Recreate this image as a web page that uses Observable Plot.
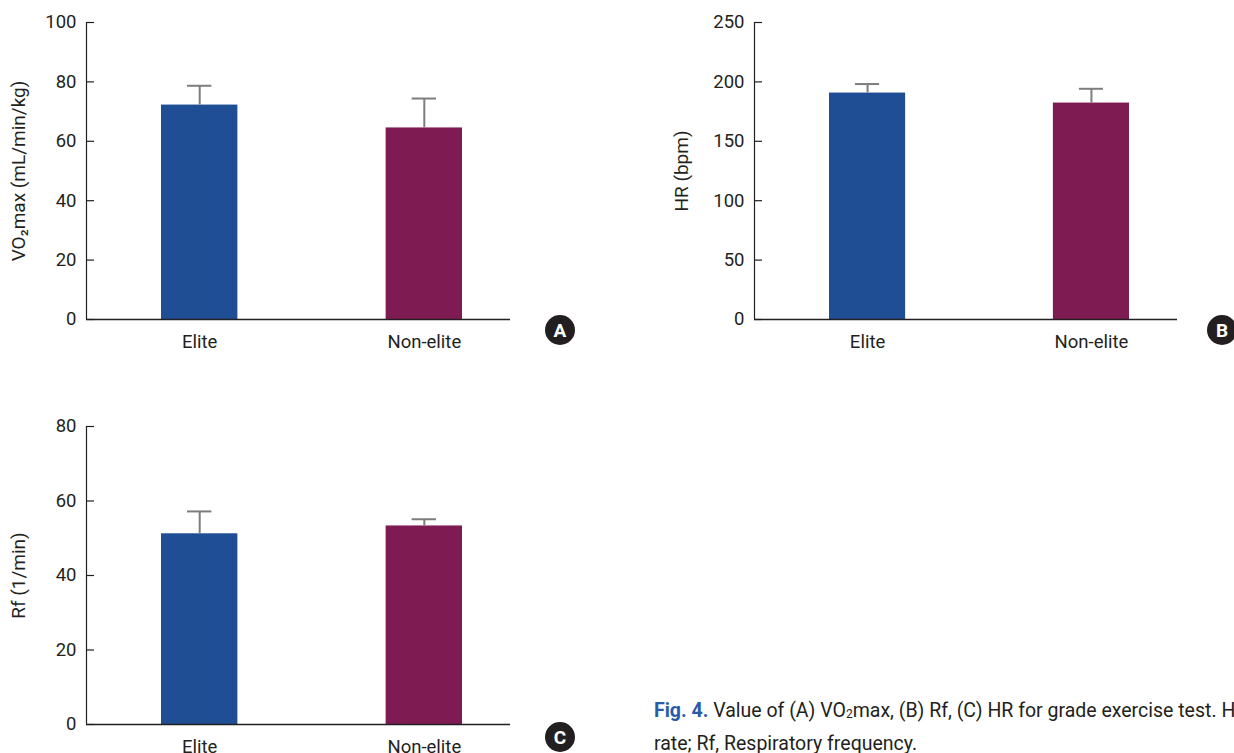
<!DOCTYPE html>
<html>
<head>
<meta charset="utf-8">
<script src="https://cdn.jsdelivr.net/npm/d3@7"></script>
<script src="https://cdn.jsdelivr.net/npm/@observablehq/plot@0.6"></script>
<style>
  html, body { margin: 0; padding: 0; background: #fff; }
  #root { position: relative; width: 1234px; height: 753px; overflow: hidden; background: #fff; font-family: Roboto, sans-serif; color: #231f20; }
  .panel { position: absolute; }
  .badge { position: absolute; width: 30px; height: 30px; border-radius: 50%; background: #231f20; color: #fff;
           font: bold 19px Roboto, sans-serif; display: flex; align-items: center; justify-content: center; }
  #caption { position: absolute; left: 654px; top: 696px; font-size: 19.5px; line-height: 29px; white-space: nowrap; color: #231f20; }
  #caption b { color: #2a5ba8; font-weight: 700; }
</style>
</head>
<body>
<div id="root">
  <div class="panel" id="pA" style="left:0;top:0"></div>
  <div class="panel" id="pB" style="left:620px;top:0"></div>
  <div class="panel" id="pC" style="left:0;top:400px"></div>
  <div class="badge" style="left:545px;top:315px">A</div>
  <div class="badge" style="left:1207px;top:315px">B</div>
  <div class="badge" style="left:545px;top:722px">C</div>
  <div id="caption"><b>Fig. 4.</b> Value of (A) VO<sub style="font-size:12px;vertical-align:-1px">2</sub>max, (B) Rf, (C) HR for grade exercise test. HR, Heart<br>rate; Rf, Respiratory frequency.</div>
</div>
<script>
// ---- data ----
const groups = ["Elite", "Non-elite"];
const groupColors = ["#1f4e94", "#7f1b53"];

const vo2Mean = [72.2, 64.5];
const vo2Sd = [6.5, 9.9];
const vo2Ticks = [0, 20, 40, 60, 80, 100];

const hrMean = [190.6, 182.2];
const hrSd = [7.6, 12.0];
const hrTicks = [0, 50, 100, 150, 200, 250];

const rfMean = [51.2, 53.3];
const rfSd = [6.0, 1.8];
const rfTicks = [0, 20, 40, 60, 80];

const ink = "#231f20";
const errInk = "#7d7d7d";

function panel({mean, sd, ticks, label, width, height, marginLeft, marginRight, marginTop, marginBottom, titleDx}) {
  const data = groups.map((g, i) => ({group: g, value: mean[i], top: mean[i] + sd[i]}));
  const frameW = width - marginLeft - marginRight;
  return Plot.plot({
    width, height, marginLeft, marginRight, marginTop, marginBottom,
    style: {fontFamily: "Roboto, sans-serif", fontSize: "18.5px", color: ink, background: "transparent", overflow: "visible"},
    x: {type: "band", domain: groups, paddingInner: 0.66, paddingOuter: 0, insetLeft: 75, insetRight: 48, round: false, axis: null},
    y: {domain: [ticks[0], ticks[ticks.length - 1]], axis: null},
    color: {domain: groups, range: groupColors},
    marks: [
      Plot.barY(data, {x: "group", y: "value", fill: "group"}),
      Plot.ruleX(data, {x: "group", y1: "value", y2: "top", stroke: errInk, strokeWidth: 2}),
      Plot.tickY(data, {x: "group", y: "top", stroke: errInk, strokeWidth: 2, insetLeft: 26, insetRight: 26}),
      // inward tick marks on the y axis
      Plot.tickY(ticks, {y: d => d, insetRight: frameW - 8, stroke: ink, strokeWidth: 1.2}),
      // y axis line
      Plot.ruleX([null], {x: null, dx: -frameW / 2, stroke: ink, strokeWidth: 1.2}),
      // x axis line
      Plot.ruleY([ticks[0]], {stroke: ink, strokeWidth: 1.5}),
      Plot.axisY({ticks, tickSize: 0, tickPadding: 10, tickFormat: d => String(d), label: null, fill: ink}),
      Plot.axisX({tickSize: 0, tickPadding: 15, label: null, fill: ink}),
      Plot.text([label], {text: d => d, frameAnchor: "left", rotate: -90, dx: titleDx, textAnchor: "middle", lineAnchor: "middle", fontSize: 19, fill: ink})
    ]
  });
}

document.getElementById("pA").appendChild(panel({
  mean: vo2Mean, sd: vo2Sd, ticks: vo2Ticks, label: "VO₂max (mL/min/kg)",
  width: 600, height: 370, marginLeft: 86, marginRight: 90, marginTop: 22, marginBottom: 51, titleDx: -68
}));
document.getElementById("pB").appendChild(panel({
  mean: hrMean, sd: hrSd, ticks: hrTicks, label: "HR (bpm)",
  width: 614, height: 370, marginLeft: 134, marginRight: 57, marginTop: 22, marginBottom: 51, titleDx: -73
}));
document.getElementById("pC").appendChild(panel({
  mean: rfMean, sd: rfSd, ticks: rfTicks, label: "Rf (1/min)",
  width: 600, height: 353, marginLeft: 86, marginRight: 90, marginTop: 26, marginBottom: 29, titleDx: -68
}));
</script>
</body>
</html>
